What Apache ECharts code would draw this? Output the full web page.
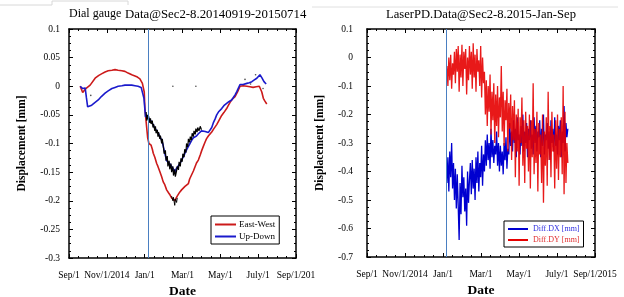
<!DOCTYPE html>
<html>
<head>
<meta charset="utf-8">
<script src="https://cdn.jsdelivr.net/npm/echarts@6/dist/echarts.min.js"></script>
<style>
html,body{margin:0;padding:0;background:#fff;}
#c{width:624px;height:297px;}
</style>
</head>
<body>
<div id="c"></div>
<script>
// ---- Data (x = days since Sep 1, 2014) ----
const leftXLabels = ['Sep/1','Nov/1/2014','Jan/1','Mar/1','May/1','July/1','Sep/1/201'];
const rightXLabels = ['Sep/1','Nov/1/2014','Jan/1','Mar/1','May/1','July/1','Sep/1/2015'];
const markerDay = 127;

const eastWest = [
 [18,0],[22,-0.011],[27,-0.004],[34,0.002],[42,0.014],[48,0.019],[53,0.022],[58,0.025],[63,0.027],[69,0.028],[74,0.029],[79,0.028],
 [85,0.027],[90,0.026],[95,0.023],[101,0.020],[106,0.018],[110,0.016],[114,0.013],[118,0.005],[121,-0.010],[122,-0.038],
 [124,-0.062],[126.5,-0.090],[128.5,-0.100],[132,-0.103],[134,-0.110],[135.5,-0.117],[138,-0.124],[141,-0.135],[143,-0.140],
 [146,-0.149],[149,-0.158],[151.5,-0.167],[154,-0.172],[157,-0.181],[160,-0.186],[162.5,-0.190],[165,-0.195],[167.5,-0.198],
 [170,-0.200],[172,-0.196],[174,-0.192],[176,-0.190],[178,-0.185],[181,-0.181],[183,-0.183],[186.5,-0.175],[189,-0.172],
 [192,-0.170],[194,-0.162],[197,-0.155],[200,-0.148],[202.5,-0.141],[205,-0.134],[208,-0.129],[211,-0.120],[213.5,-0.112],
 [216,-0.105],[219,-0.097],[221,-0.092],[224,-0.087],[227,-0.084],[229.5,-0.080],[233,-0.074],[237.5,-0.067],[241,-0.060],
 [245.5,-0.051],[249,-0.046],[253.5,-0.039],[256,-0.034],[259,-0.028],[263,-0.022],[267,-0.018],[271,-0.010],[275,0.000],
 [280,0.001],[286,0.000],[291,-0.001],[296,-0.002],[301,-0.001],[306,0.000],[310,-0.010],[312.5,-0.021],[315,-0.026],[318,-0.031]
];
const upDown = [
 [18,0],[22,-0.004],[26,-0.003],[28,-0.020],[30,-0.036],[33,-0.035],[36.5,-0.033],[41,-0.029],[47,-0.024],[52,-0.018],
 [58,-0.012],[63,-0.008],[69,-0.004],[74,-0.002],[79,0.000],[85,0.001],[90,0.002],[95,0.002],[101,0.002],[106,0.001],
 [111,0.000],[116,-0.002],[118,-0.004],[120.5,-0.021],[123,-0.053],[127.5,-0.055],[130,-0.058],[133,-0.062],[135.5,-0.068],
 [138,-0.073],[141,-0.078],[143.5,-0.082],[146,-0.088],[149,-0.094],[151.5,-0.104],[154,-0.117],[157,-0.130],[160,-0.133],
 [162.5,-0.136],[165,-0.140],[167.5,-0.144],[170,-0.150],[173,-0.143],[176,-0.140],[178.5,-0.135],[181,-0.129],[184,-0.123],
 [186.5,-0.117],[189,-0.111],[192,-0.105],[194.5,-0.100],[197,-0.095],[200,-0.090],[203,-0.088],[205,-0.087],[208,-0.083],
 [210.5,-0.080],[213,-0.078],[216,-0.076],[219,-0.079],[221,-0.082],[224,-0.081],[227,-0.079],[229.5,-0.072],[232,-0.064],
 [235,-0.057],[237.5,-0.050],[241,-0.044],[245.5,-0.039],[249,-0.034],[253.5,-0.030],[257,-0.027],[261.5,-0.024],[264,-0.020],
 [267,-0.015],[270,-0.009],[272,-0.004],[275,0.003],[280,0.003],[286,0.005],[290,0.006],[294,0.008],[298,0.011],[302,0.014],
 [305,0.017],[307,0.020],[310,0.015],[313.5,0.008],[317,0.004]
];
const rawNoise = [
 [124,-0.045],[125,-0.060],[126,-0.050],[127,-0.058],[128,-0.052],[130,-0.064],[131,-0.056],[132,-0.066],[134,-0.060],[135,-0.072],
 [136,-0.066],[138,-0.078],[139,-0.070],[140,-0.082],[142,-0.076],[143,-0.088],[144,-0.080],[146,-0.092],[147,-0.086],[149,-0.100],
 [150,-0.092],[152,-0.108],[153,-0.118],[155,-0.112],[156,-0.130],[158,-0.122],[159,-0.140],[161,-0.130],[162,-0.145],[164,-0.135],
 [165,-0.150],[167,-0.140],[168,-0.156],[170,-0.145],[171,-0.158],[173,-0.148],[174,-0.140],[176,-0.146],[177,-0.132],[179,-0.140],
 [180,-0.126],[182,-0.132],[183,-0.118],[185,-0.124],[186,-0.110],[188,-0.116],[189,-0.100],[191,-0.106],[192,-0.092],[194,-0.098],
 [195,-0.088],[197,-0.094],[198,-0.082],[200,-0.088],[201,-0.078],[203,-0.084],[204,-0.074],[206,-0.080],[207,-0.072],[209,-0.078],
 [211,-0.070],[213,-0.076]
];
const rawNoiseLow = [[165,-0.192],[167,-0.200],[168,-0.194],[170,-0.208],[171,-0.197],[173,-0.203],[174,-0.195]];
const rawDots = [[35,-0.016],[167,0.000],[204,0.000],[283,0.012],[292,0.004],[300,0.020],[312,-0.004]];

const laserStartDay = 128;
const laserStepDays = 1.5;
const diffDY = [
 -0.03,-0.10,0.00,-0.08,0.01,-0.11,-0.02,-0.06,0.02,-0.09,
 0.03,-0.05,0.04,-0.12,0.01,-0.07,0.045,-0.10,0.02,-0.04,
 0.03,-0.13,0.00,-0.08,0.04,-0.06,0.02,-0.11,0.05,-0.07,
 0.01,-0.12,0.03,-0.05,-0.01,-0.10,0.04,-0.14,0.00,-0.09,
 -0.05,-0.20,-0.08,-0.24,-0.10,-0.19,-0.06,-0.27,-0.12,-0.22,-0.09,-0.30,-0.13,
 -0.24,-0.10,-0.28,-0.14,-0.21,-0.03,-0.26,-0.12,-0.31,-0.15,-0.22,-0.11,-0.33,-0.16,-0.25,-0.13,
 -0.36,-0.17,-0.29,-0.15,-0.42,-0.20,-0.33,-0.18,-0.45,-0.21,-0.30,-0.14,-0.38,-0.22,-0.44,-0.19,-0.32,-0.24,-0.40,-0.20,
 -0.46,-0.22,-0.35,-0.09,-0.41,-0.25,-0.37,-0.19,-0.47,-0.23,-0.34,-0.27,-0.44,-0.20,-0.51,-0.26,-0.38,-0.21,-0.45,-0.12,
 -0.36,-0.24,-0.42,-0.19,-0.33,-0.27,-0.46,-0.22,-0.39,-0.20,-0.43,-0.25,-0.35,-0.21,-0.41,-0.10,-0.48,-0.19,-0.44,-0.30,-0.37
];
const diffDX = [
 -0.44,-0.35,-0.47,-0.33,-0.42,-0.30,-0.46,-0.37,
 -0.50,-0.39,-0.53,-0.41,-0.52,-0.64,-0.44,-0.55,-0.38,-0.49,-0.42,-0.54,-0.46,-0.59,-0.40,-0.51,-0.43,-0.37,
 -0.48,-0.36,-0.46,-0.39,-0.50,-0.35,-0.44,-0.33,-0.47,-0.37,-0.42,-0.31,-0.45,-0.34,-0.40,-0.29,
 -0.38,-0.27,-0.36,-0.30,-0.39,-0.25,-0.35,-0.29,-0.37,-0.31,-0.34,-0.26,-0.38,-0.30,
 -0.40,-0.31,-0.38,-0.33,-0.41,-0.30,-0.36,-0.28,-0.39,-0.32,
 -0.34,-0.23,-0.31,-0.26,-0.33,-0.22,-0.30,-0.25,-0.35,-0.21,
 -0.29,-0.27,-0.34,-0.24,-0.31,-0.20,-0.33,-0.26,-0.30,-0.23,
 -0.35,-0.25,-0.29,-0.22,-0.32,-0.27,-0.34,-0.21,-0.30,-0.24,
 -0.33,-0.26,-0.28,-0.22,-0.35,-0.25,-0.31,-0.20,-0.34,-0.27,
 -0.29,-0.23,-0.32,-0.26,-0.36,-0.22,-0.30,-0.25,-0.33,-0.21,
 -0.31,-0.27,-0.34,-0.24,-0.29,-0.22,-0.35,-0.26,-0.30,-0.17,
 -0.33,-0.23,-0.28,-0.25
];

// ---- Chart ----
const FONT = '"Liberation Serif", "Times New Roman", serif';
const DAYSPAN = 365;
const XINT = DAYSPAN / 6;
const laserPts = arr => arr.map((v, i) => [laserStartDay + i * laserStepDays, v]);
const fmtY = v => String(+v.toFixed(2));

function xAxes(grid, labels, withLabels, pos) {
  return {
    type: 'value', gridIndex: grid, position: pos, min: 0, max: DAYSPAN, interval: XINT,
    axisLine: { show: true, onZero: false, lineStyle: { color: '#000', width: 1.5 } },
    axisTick: { show: true, inside: true, length: 4, lineStyle: { color: '#000' } },
    minorTick: { show: true, splitNumber: 4, length: 2, lineStyle: { color: '#000' } },
    splitLine: { show: false },
    axisLabel: withLabels ? {
      show: true, margin: 12, color: '#000', fontFamily: FONT, fontSize: 9.5,
      showMinLabel: true, showMaxLabel: true, hideOverlap: false,
      formatter: v => labels[Math.round(v / XINT)]
    } : { show: false },
    name: withLabels ? 'Date' : '', nameLocation: 'middle', nameGap: 26,
    nameTextStyle: { fontFamily: FONT, fontSize: 13.5, fontWeight: 'bold', color: '#000' }
  };
}
function yAxes(grid, min, max, interval, withLabels, pos, gap, margin) {
  return {
    type: 'value', gridIndex: grid, position: pos, min: min, max: max, interval: interval,
    axisLine: { show: true, onZero: false, lineStyle: { color: '#000', width: 1.5 } },
    axisTick: { show: true, inside: true, length: 4, lineStyle: { color: '#000' } },
    minorTick: { show: true, splitNumber: 4, length: 2, lineStyle: { color: '#000' } },
    splitLine: { show: false },
    axisLabel: withLabels ? { show: true, margin: margin, color: '#000', fontFamily: FONT, fontSize: 9.5, formatter: fmtY } : { show: false },
    name: withLabels ? 'Displacement [mm]' : '', nameLocation: 'middle', nameGap: gap, nameRotate: 90,
    nameTextStyle: { fontFamily: FONT, fontSize: 11.5, fontWeight: 'bold', color: '#000' }
  };
}

const markLine = {
  silent: true, symbol: 'none', label: { show: false }, animation: false,
  lineStyle: { color: '#4a7fc1', width: 1, type: 'solid' },
  data: [{ xAxis: markerDay }]
};
const titleStyle = size => ({ fontFamily: FONT, fontSize: size, fontWeight: 'normal', color: '#000' });

const option = {
  animation: false,
  backgroundColor: '#fff',
  title: [
    { text: 'Dial gauge', left: 69, top: 8, padding: 0, textStyle: titleStyle(12) },
    { text: 'Data@Sec2-8.20140919-20150714', left: 125, top: 8, padding: 0, textStyle: titleStyle(12.8) },
    { text: 'LaserPD.Data@Sec2-8.2015-Jan-Sep', left: 386, top: 8, padding: 0, textStyle: titleStyle(12.6) }
  ],
  grid: [
    { left: 69, top: 29, width: 227, height: 229, outerBoundsMode: 'none', containLabel: false },
    { left: 367, top: 29, width: 228, height: 228, outerBoundsMode: 'none', containLabel: false }
  ],
  xAxis: [
    xAxes(0, leftXLabels, true, 'bottom'),
    xAxes(0, leftXLabels, false, 'top'),
    xAxes(1, rightXLabels, true, 'bottom'),
    xAxes(1, rightXLabels, false, 'top')
  ],
  yAxis: [
    yAxes(0, -0.3, 0.1, 0.05, true, 'left', 41, 9),
    yAxes(0, -0.3, 0.1, 0.05, false, 'right', 0, 0),
    yAxes(1, -0.7, 0.1, 0.1, true, 'left', 41, 14),
    yAxes(1, -0.7, 0.1, 0.1, false, 'right', 0, 0)
  ],
  legend: [
    {
      data: ['East-West', 'Up-Down'], orient: 'vertical', left: 211, top: 216,
      borderColor: '#000', borderWidth: 1, padding: [4, 4, 3, 4], itemGap: 3,
      itemWidth: 21, itemHeight: 2, icon: 'rect',
      textStyle: { fontFamily: FONT, fontSize: 9, color: '#000', padding: [0, 0, 0, -2] }
    },
    {
      data: [
        { name: 'Diff.DX [mm]', textStyle: { color: '#3030e0' } },
        { name: 'Diff.DY [mm]', textStyle: { color: '#e03030' } }
      ],
      orient: 'vertical', left: 504, top: 221,
      borderColor: '#000', borderWidth: 1, padding: [4, 4, 3, 4], itemGap: 3,
      itemWidth: 20, itemHeight: 2, icon: 'rect',
      textStyle: { fontFamily: FONT, fontSize: 8 }
    }
  ],
  graphic: [
    { type: 'polyline', silent: true, shape: { points: [[0, 5], [52, 5], [52, 1], [128, 1], [128, 5]] }, style: { stroke: '#d8d8d8', lineWidth: 1, fill: null } },
    { type: 'line', silent: true, shape: { x1: 312, y1: 7, x2: 618, y2: 7 }, style: { stroke: '#e0e0e0', lineWidth: 1 } }
  ],
  series: [
    { name: 'East-West', type: 'line', xAxisIndex: 0, yAxisIndex: 0, data: eastWest, showSymbol: false, symbol: 'none',
      lineStyle: { color: '#cc1a1a', width: 1.6 }, itemStyle: { color: '#cc1a1a' }, markLine: markLine },
    { name: 'Up-Down', type: 'line', xAxisIndex: 0, yAxisIndex: 0, data: upDown, showSymbol: false, symbol: 'none',
      lineStyle: { color: '#1a1acc', width: 1.6 }, itemStyle: { color: '#1a1acc' } },
    { name: 'raw', type: 'line', xAxisIndex: 0, yAxisIndex: 0, data: rawNoise, showSymbol: false, symbol: 'none',
      lineStyle: { color: '#000', width: 1.2 } },
    { name: 'rawLow', type: 'line', xAxisIndex: 0, yAxisIndex: 0, data: rawNoiseLow, showSymbol: false, symbol: 'none',
      lineStyle: { color: '#000', width: 1 } },
    { name: 'dots', type: 'scatter', xAxisIndex: 0, yAxisIndex: 0, data: rawDots, symbolSize: 1.6, itemStyle: { color: '#222' } },
    { name: 'Diff.DX [mm]', type: 'line', xAxisIndex: 2, yAxisIndex: 2, data: laserPts(diffDX), showSymbol: false, symbol: 'none',
      lineStyle: { color: '#0000d0', width: 1.3 }, itemStyle: { color: '#0000d0' }, markLine: markLine },
    { name: 'Diff.DY [mm]', type: 'line', xAxisIndex: 2, yAxisIndex: 2, data: laserPts(diffDY), showSymbol: false, symbol: 'none',
      lineStyle: { color: '#e60000', width: 1.3, opacity: 0.9 }, itemStyle: { color: '#e60000' } }
  ]
};

const chart = echarts.init(document.getElementById('c'), null, { renderer: 'canvas' });
chart.setOption(option);
</script>
</body>
</html>
